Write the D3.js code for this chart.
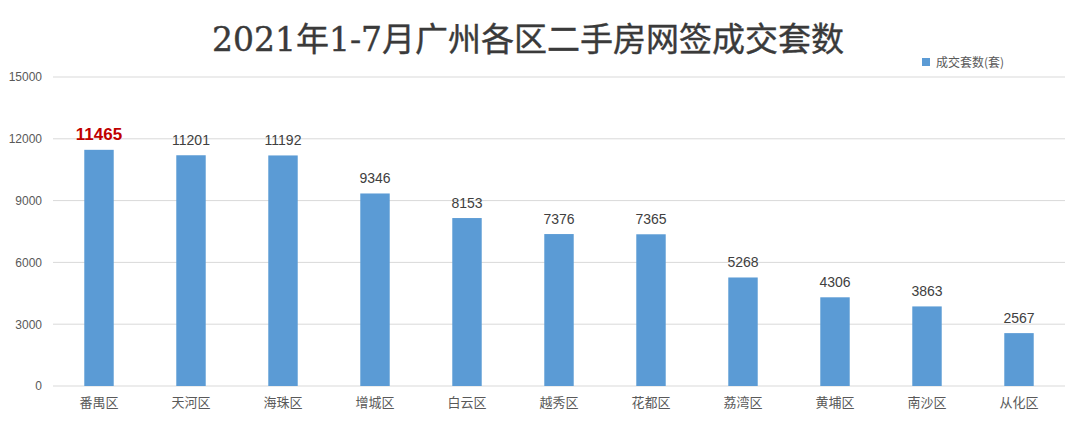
<!DOCTYPE html>
<html><head><meta charset="utf-8">
<script src="https://cdn.jsdelivr.net/npm/d3@7/dist/d3.min.js"></script>
<style>
body{margin:0;background:#fff;}
svg{display:block;}
</style></head>
<body><svg id="c" width="1080" height="429"></svg>
<script>
const categories = ["番禺区","天河区","海珠区","增城区","白云区","越秀区","花都区","荔湾区","黄埔区","南沙区","从化区"];
const values = [11465,11201,11192,9346,8153,7376,7365,5268,4306,3863,2567];
const yTicks = [0,3000,6000,9000,12000,15000];
const title = "2021年1-7月广州各区二手房网签成交套数";
const seriesName = "成交套数(套)";

(function(){
const svg = d3.select("#c");
const mLeft = 53, mRight = 1065, mTop = 77, mBottom = 386;
const x = d3.scaleBand().domain(categories).range([mLeft, mRight]).paddingInner(0.68).paddingOuter(0.34);
const y = d3.scaleLinear().domain([0, 15000]).range([mBottom, mTop]);

svg.append("text").attr("x", 528).attr("y", 51).attr("text-anchor", "middle")
  .attr("font-family", "'DejaVu Serif','Noto Sans CJK SC',serif").attr("font-size", 33)
  .attr("font-weight", "normal").attr("fill", "#3a3a3a")
  .attr("stroke", "#3a3a3a").attr("stroke-width", 0.4).text(title);

svg.append("g").selectAll("line").data(yTicks).join("line")
  .attr("x1", mLeft).attr("x2", mRight).attr("y1", d => y(d)).attr("y2", d => y(d))
  .attr("stroke", "#d9d9d9").attr("stroke-width", 1);

const yAxis = d3.axisLeft(y).tickValues(yTicks).tickSize(0).tickPadding(11).tickFormat(d3.format("d"));
const ya = svg.append("g").attr("transform", `translate(${mLeft},0)`).call(yAxis);
ya.select(".domain").remove();
ya.selectAll("text").attr("font-family", "'Liberation Sans','Noto Sans CJK SC',sans-serif").attr("font-size", 12).attr("fill", "#595959");

svg.append("g").selectAll("rect").data(values).join("rect")
  .attr("x", (d, i) => x(categories[i])).attr("width", x.bandwidth())
  .attr("y", d => y(d)).attr("height", d => mBottom - y(d)).attr("fill", "#5b9bd5");

svg.append("g").selectAll("text").data(values).join("text")
  .attr("x", (d, i) => x(categories[i]) + x.bandwidth() / 2)
  .attr("y", d => y(d) - 10)
  .attr("text-anchor", "middle")
  .attr("font-family", "'Liberation Sans','Noto Sans CJK SC',sans-serif")
  .attr("font-size", (d, i) => i === 0 ? 17 : 14)
  .attr("font-weight", (d, i) => i === 0 ? "bold" : "normal")
  .attr("fill", (d, i) => i === 0 ? "#c00000" : "#404040")
  .text(d => d);

const xAxis = d3.axisBottom(x).tickSize(0).tickPadding(12);
const xa = svg.append("g").attr("transform", `translate(0,${mBottom})`).call(xAxis);
xa.select(".domain").remove();
xa.selectAll("text").attr("font-family", "'Noto Sans CJK SC',sans-serif").attr("font-size", 13).attr("fill", "#595959");

const lg = svg.append("g").attr("transform", "translate(922,62)");
lg.append("rect").attr("x", 0).attr("y", -4).attr("width", 8).attr("height", 8).attr("fill", "#5b9bd5");
lg.append("text").attr("x", 14).attr("y", 4.5).attr("font-family", "'Noto Sans CJK SC',sans-serif")
  .attr("font-size", 12).attr("fill", "#595959").text(seriesName);
})();
</script></body></html>
